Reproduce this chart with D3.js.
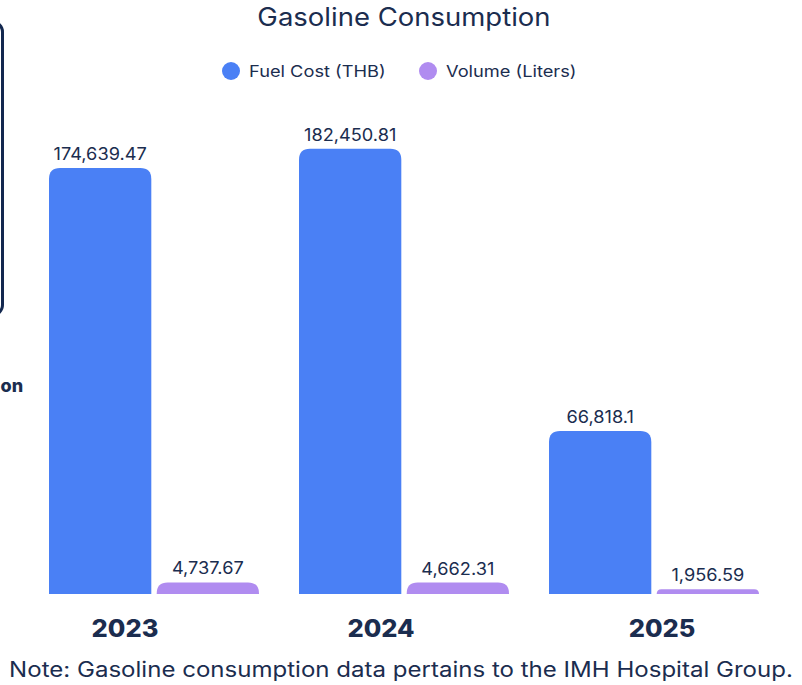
<!DOCTYPE html>
<html>
<head>
<meta charset="utf-8">
<script src="https://cdn.jsdelivr.net/npm/d3@7"></script>
<style>
  html, body { margin: 0; padding: 0; background: #ffffff; }
  svg { display: block; font-family: "Inter", "Noto Sans", sans-serif; }
</style>
</head>
<body>
<svg id="chart" width="802" height="685"></svg>
<script>
// Yearly gasoline figures
const years = ["2023", "2024", "2025"];
const fuelCost = [174639.47, 182450.81, 66818.1];
const volume = [4737.67, 4662.31, 1956.59];
const seriesNames = ["Fuel Cost (THB)", "Volume (Liters)"];
const seriesColors = ["#4a80f5", "#b08cf0"];
const valueLabels = [
  ["174,639.47", "182,450.81", "66,818.1"],
  ["4,737.67", "4,662.31", "1,956.59"]
];

const ink = "#1b2d4f";
const svg = d3.select("#chart");

// Widen a text run horizontally by a factor (the brand face is wider than Inter)
function widen(sel, factor) {
  sel.each(function () {
    const w = this.getComputedTextLength();
    d3.select(this).attr("textLength", w * factor).attr("lengthAdjust", "spacingAndGlyphs");
  });
  return sel;
}

const rows = years.map((y, i) => ({ year: y, values: [fuelCost[i], volume[i]] }));

const x0 = d3.scaleBand().domain(years).range([29, 779])
  .paddingInner(0.16).paddingOuter(0.08);
const x1 = d3.scaleBand().domain([0, 1]).range([0, x0.bandwidth()])
  .paddingInner(0.05);
const y = d3.scaleLinear().domain([0, 200000]).range([594, 106]);

// Side panel edge and heading continuing from the left
svg.append("rect")
  .attr("x", -300).attr("y", 22).attr("width", 302.5).attr("height", 293)
  .attr("rx", 10).attr("fill", "none").attr("stroke", "#13284f").attr("stroke-width", 3);
svg.append("text")
  .attr("x", 0.5).attr("y", 392)
  .attr("font-size", 18).attr("font-weight", 800).attr("fill", ink)
  .text("on");

// Title
widen(svg.append("text")
  .attr("x", 404).attr("y", 26).attr("text-anchor", "middle")
  .attr("font-size", 25).attr("font-weight", 400).attr("fill", ink)
  .text("Gasoline Consumption"), 1.1);

// Legend
const legend = svg.append("g");
const legendX = [231, 428];
seriesNames.forEach((name, i) => {
  legend.append("circle").attr("cx", legendX[i]).attr("cy", 71).attr("r", 9)
    .attr("fill", seriesColors[i]);
  widen(legend.append("text").attr("x", legendX[i] + 18).attr("y", 77)
    .attr("font-size", 16).attr("fill", ink).text(name), 1.14);
});

// Bar with rounded top corners only
function topRounded(x, yTop, w, h, r) {
  const rr = Math.min(r, h, w / 2);
  const yb = yTop + h;
  return `M${x},${yb}V${yTop + rr}Q${x},${yTop} ${x + rr},${yTop}` +
    `H${x + w - rr}Q${x + w},${yTop} ${x + w},${yTop + rr}V${yb}Z`;
}

const groups = svg.append("g").selectAll("g").data(rows).join("g")
  .attr("transform", d => `translate(${x0(d.year)},0)`);

groups.selectAll("path").data((d, gi) => d.values.map((v, si) => ({ v, si, gi })))
  .join("path")
  .attr("fill", d => seriesColors[d.si])
  .attr("d", d => topRounded(x1(d.si), y(d.v), x1.bandwidth(), y(0) - y(d.v), 11));

widen(groups.selectAll("text.val").data((d, gi) => d.values.map((v, si) => ({ v, si, gi })))
  .join("text").attr("class", "val")
  .attr("x", d => x1(d.si) + x1.bandwidth() / 2)
  .attr("y", d => y(d.v) - 8)
  .attr("text-anchor", "middle").attr("font-size", 17).attr("fill", ink)
  .text(d => valueLabels[d.si][d.gi]), 1.07);

// Year labels under each group
const yearShift = [-29, -23, 8];
widen(svg.append("g").selectAll("text").data(years).join("text")
  .attr("x", (d, i) => x0(d) + x0.bandwidth() / 2 + yearShift[i])
  .attr("y", 637).attr("text-anchor", "middle")
  .attr("font-size", 24).attr("font-weight", 800).attr("fill", ink)
  .text(d => d), 1.06);

// Footnote
widen(svg.append("text")
  .attr("x", 401).attr("y", 677).attr("text-anchor", "middle")
  .attr("font-size", 21).attr("fill", ink)
  .text("Note: Gasoline consumption data pertains to the IMH Hospital Group."), 1.145);
</script>
</body>
</html>
